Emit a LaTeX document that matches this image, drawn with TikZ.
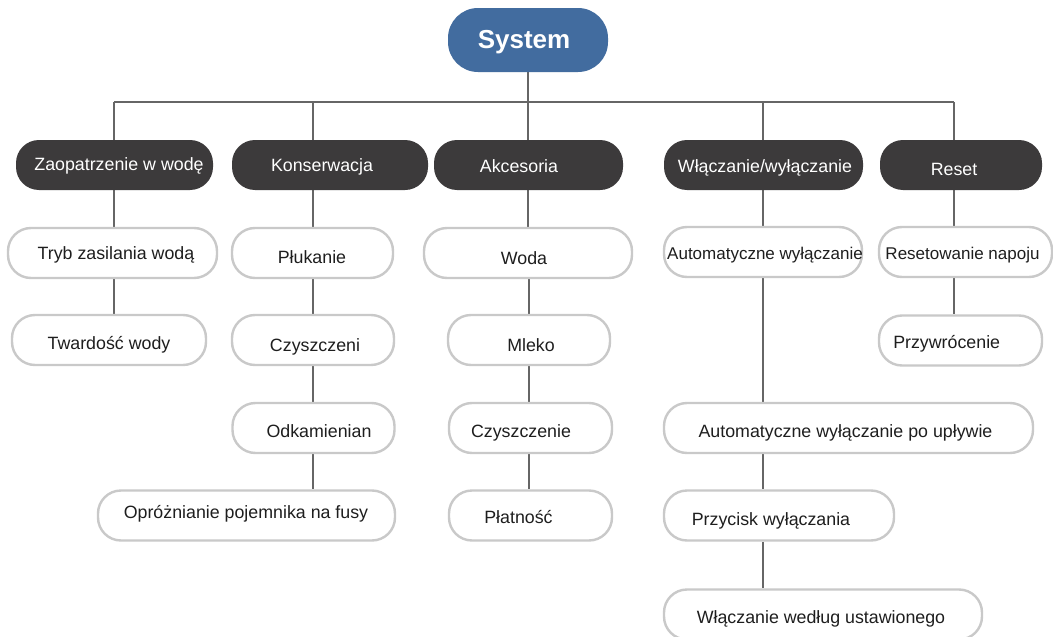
\documentclass[tikz,border=0pt]{standalone}
\usepackage{fontspec}
\setmainfont{Liberation Sans}
\usetikzlibrary{backgrounds}
\pgfdeclarelayer{paper}
\pgfsetlayers{paper,background,main}
\definecolor{sysblue}{HTML}{426C9F}
\definecolor{darkbox}{HTML}{3C3A3B}
\definecolor{lightedge}{HTML}{C9C9C9}
\definecolor{linkgray}{HTML}{666666}
\definecolor{txtcol}{HTML}{1E1E1E}
\begin{document}
\begin{tikzpicture}[x=1pt,y=-1pt,
  pillbase/.style={rectangle, rounded corners=23pt, inner sep=0pt, minimum height=50pt},
  topbox/.style={rectangle, rounded corners=30pt, inner sep=0pt, fill=sysblue, minimum width=160pt, minimum height=64pt},
  catbox/.style={pillbase, fill=darkbox},
  itembox/.style={pillbase, fill=white, draw=lightedge, line width=2.4pt},
  toplab/.style={anchor=base, inner sep=0pt, text=white, font=\fontsize{26}{30}\selectfont\bfseries},
  catlab/.style={anchor=base, inner sep=0pt, text=white, font=\fontsize{17.8}{20}\selectfont},
  lab/.style={anchor=base, inner sep=0pt, text=txtcol, font=\fontsize{17.8}{20}\selectfont},
  link/.style={draw=linkgray, line width=2.4pt}]
\useasboundingbox (0,0) rectangle (1053,637);
\clip (0,0) rectangle (1053,637);
\begin{pgfonlayer}{paper}
\fill[white] (0,0) rectangle (1053,637);
\end{pgfonlayer}

% top
\node[topbox] (sys) at (528,40) {};
\node[toplab] (sys-t) at (524,48) {System};

% categories
\node[catbox, minimum width=197pt] (zao) at (114.5,165) {};
\node[catlab] (zao-t) at (119,170) {Zaopatrzenie w wodę};
\node[catbox, minimum width=196pt] (kon) at (330,165) {};
\node[catlab] (kon-t) at (322,171) {Konserwacja};
\node[catbox, minimum width=189pt] (akc) at (528.5,165) {};
\node[catlab] (akc-t) at (519,172) {Akcesoria};
\node[catbox, minimum width=199pt] (wla) at (763.5,165) {};
\node[catlab] (wla-t) at (765,172) {Włączanie/wyłączanie};
\node[catbox, minimum width=162pt] (res) at (961,165) {};
\node[catlab] (res-t) at (954,175) {Reset};

% column A
\node[itembox, minimum width=209pt] (tryb) at (112.5,253) {};
\node[lab] (tryb-t) at (116,259) {Tryb zasilania wodą};
\node[itembox, minimum width=194pt] (twa) at (109,340) {};
\node[lab] (twa-t) at (109,349) {Twardość wody};

% column B
\node[itembox, minimum width=161pt] (plu) at (312.5,253) {};
\node[lab] (plu-t) at (312,263) {Płukanie};
\node[itembox, minimum width=162pt] (czya) at (313,340) {};
\node[lab] (czya-t) at (315,351) {Czyszczeni};
\node[itembox, minimum width=162pt] (odk) at (313.5,428) {};
\node[lab] (odk-t) at (319,437) {Odkamienian};
\node[itembox, minimum width=297pt] (opr) at (246.5,515.5) {};
\node[lab] (opr-t) at (246,518.5) {Opróżnianie pojemnika na fusy};

% column C
\node[itembox, minimum width=208pt] (woda) at (528,253) {};
\node[lab] (woda-t) at (524,264) {Woda};
\node[itembox, minimum width=162pt] (mle) at (529,340) {};
\node[lab] (mle-t) at (531,351) {Mleko};
\node[itembox, minimum width=163pt] (czyb) at (530.5,428) {};
\node[lab] (czyb-t) at (521,437) {Czyszczenie};
\node[itembox, minimum width=163pt] (pla) at (530.5,515.5) {};
\node[lab] (pla-t) at (518.5,523) {Płatność};

% column D
\node[itembox, minimum width=198pt] (auto) at (763,252) {};
\node[lab, font=\fontsize{17}{20}\selectfont] (auto-t) at (765,259) {Automatyczne wyłączanie};
\node[itembox, minimum width=369pt] (aup) at (848.5,428) {};
\node[lab] (aup-t) at (845.5,437.5) {Automatyczne wyłączanie po upływie};
\node[itembox, minimum width=230pt] (pw) at (779,515.5) {};
\node[lab] (pw-t) at (771,525) {Przycisk wyłączania};
\node[itembox, minimum width=318pt] (wwu) at (823,614.5) {};
\node[lab] (wwu-t) at (821,623) {Włączanie według ustawionego};

% column E
\node[itembox, minimum width=173pt] (rnap) at (965.5,252) {};
\node[lab, font=\fontsize{17}{20}\selectfont] (rnap-t) at (962.5,259) {Resetowanie napoju};
\node[itembox, minimum width=163pt] (prz) at (960.5,340.5) {};
\node[lab] (prz-t) at (946.7,348) {Przywrócenie};

% bus coordinates
\coordinate (cA) at (114,102);
\coordinate (cB) at (313,102);
\coordinate (cC) at (528,102);
\coordinate (cCc) at (529,102);
\coordinate (cD) at (763,102);
\coordinate (cE) at (954,102);

\begin{scope}[on background layer]
\draw[link] (sys.south) -- (cC);
\draw[link] (cA) -- (cE);
\draw[link] (cA) -- (cA |- zao.north);
\draw[link] (cB) -- (cB |- kon.north);
\draw[link] (cC) -- (cC |- akc.north);
\draw[link] (cD) -- (cD |- wla.north);
\draw[link] (cE) -- (cE |- res.north);
% column A
\draw[link] (cA |- zao.south) -- (cA |- tryb.north);
\draw[link] (cA |- tryb.south) -- (cA |- twa.north);
% column B
\draw[link] (cB |- kon.south) -- (cB |- plu.north);
\draw[link] (cB |- plu.south) -- (cB |- czya.north);
\draw[link] (cB |- czya.south) -- (cB |- odk.north);
\draw[link] (cB |- odk.south) -- (cB |- opr.north);
% column C
\draw[link] (cC |- akc.south) -- (cC |- woda.north);
\draw[link] (cCc |- woda.south) -- (cCc |- mle.north);
\draw[link] (cCc |- mle.south) -- (cCc |- czyb.north);
\draw[link] (cCc |- czyb.south) -- (cCc |- pla.north);
% column D
\draw[link] (cD |- wla.south) -- (cD |- auto.north);
\draw[link] (cD |- auto.south) -- (cD |- aup.north);
\draw[link] (cD |- aup.south) -- (cD |- pw.north);
\draw[link] (cD |- pw.south) -- (cD |- wwu.north);
% column E
\draw[link] (cE |- res.south) -- (cE |- rnap.north);
\draw[link] (cE |- rnap.south) -- (cE |- prz.north);
\end{scope}
\end{tikzpicture}
\end{document}
